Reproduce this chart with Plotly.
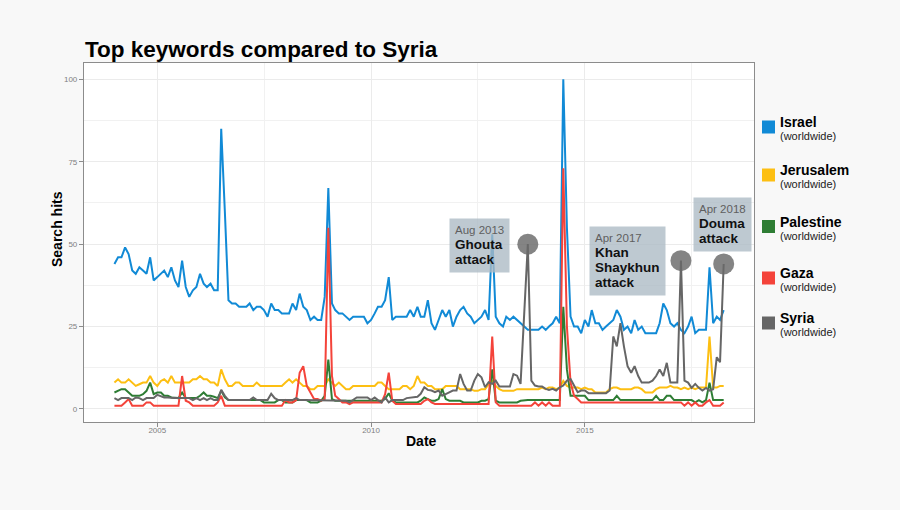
import plotly.graph_objects as go
import pandas as pd

# ---------------- data (monthly Google Trends, Jan 2004 - Apr 2018) ----------------
start_month = "2004-01-01"
n_months = 172

israel = [44, 46, 46, 49, 47, 42, 41, 43, 42, 41, 46, 39,
          40, 41, 42, 40, 43, 39, 37, 45, 37, 34, 36, 37,
          41, 38, 37, 38, 36, 36, 85, 60, 33, 32, 32, 31,
          31, 31, 32, 30, 31, 31, 30, 28, 32, 30, 30, 29,
          29, 29, 32, 30, 35, 31, 30, 27, 28, 27, 27, 34,
          67, 32, 30, 29, 29, 28, 27, 28, 28, 28, 28, 26,
          27, 29, 31, 31, 33, 40, 27, 28, 28, 28, 28, 30,
          28, 31, 28, 28, 33, 26, 24, 27, 30, 28, 30, 25,
          28, 30, 31, 29, 28, 26, 27, 28, 30, 27, 53, 28,
          26, 25, 28, 27, 28, 27, 26, 25, 24, 24, 24, 24,
          25, 24, 25, 26, 28, 26, 100, 55, 28, 25, 25, 23,
          27, 25, 30, 26, 26, 24, 25, 26, 27, 30, 28, 24,
          25, 23, 27, 24, 25, 23, 23, 23, 23, 26, 32, 30,
          26, 25, 26, 24, 23, 25, 28, 23, 24, 24, 24, 43,
          26, 28, 27, 30]

jerusalem = [8, 9, 8, 8, 9, 8, 7, 7.5, 8, 8, 10, 8,
             7, 8.5, 9, 8, 10, 8, 8, 8, 8, 8, 9, 9,
             10, 9, 9, 8, 8, 7, 12, 9, 7, 7, 8, 8,
             7, 7, 7, 7, 8, 7, 7, 7, 7, 7, 7, 7,
             8, 9, 8, 9, 8, 7, 7, 6, 6, 7, 7, 7,
             9, 8, 7, 8, 7, 6, 6, 7, 7, 7, 7, 7,
             7, 7, 8, 8, 7, 6, 6, 6, 6, 7, 7, 6,
             7, 10, 8, 8, 7, 7, 6, 6, 6, 7, 7, 7,
             7, 6, 6, 6, 6, 5.5, 5.5, 6, 6, 7.5, 8.5, 7,
             6, 5.5, 5.5, 5.5, 5.5, 6, 6, 6, 6, 6, 6, 6,
             6.5, 6, 6.5, 6.5, 6, 6.5, 8.5, 7, 6.5, 6.5, 6.5, 6,
             6.5, 6, 6, 5, 5, 5, 5, 6, 6.5, 6.5, 6, 6,
             6, 6, 6.5, 6.5, 6, 5, 5, 5, 6, 6.5, 6.5, 6.5,
             7, 6.5, 6.5, 6, 6.5, 6, 6.5, 6, 6.5, 6.5, 6.5, 22,
             6.5, 6.5, 7, 7]

palestine = [5, 5.5, 6, 6, 5, 4, 4, 4, 4.5, 5.5, 8, 4.5,
             5, 5, 4, 4, 3.5, 3.3, 3.3, 5, 3.3, 3.3, 3.3, 3.3,
             4, 5, 4, 4, 3.7, 3.3, 5.5, 3.5, 2.7, 2.7, 2.7, 2.7,
             2.7, 2.7, 2.7, 2.7, 2.7, 2.7, 2, 2, 2, 2, 2.7, 2.7,
             2, 2, 2, 2.7, 2.7, 2.7, 2.7, 2, 2, 2, 2.5, 4,
             15, 3, 2.5, 2.5, 2.5, 2.5, 2.5, 2.5, 2.5, 2.5, 2.5, 2.5,
             2.5, 2.5, 2.5, 2.5, 3, 4.8, 2.5, 2, 2, 2, 2, 2,
             2, 2, 2.5, 3.5, 3, 2.5, 2.5, 3, 6, 3, 2.5, 2.5,
             2.5, 2.5, 2, 2, 2, 2, 2, 2.5, 2.5, 3, 12, 2.5,
             2, 2, 2, 2, 2, 2, 2.5, 2.7, 2.7, 2.7, 2.7, 2.7,
             2.7, 2.7, 2.7, 2.7, 2.7, 2.7, 31, 12, 4, 4, 4, 4,
             4, 2.7, 2.7, 2.7, 2.7, 2.7, 2.7, 2.7, 2.7, 4, 2.7, 2.7,
             2.7, 2.7, 2.7, 2.7, 2.7, 2.7, 2.7, 2.7, 4, 2.7, 2.7, 4,
             4, 2.7, 2.7, 2.7, 2.7, 2.7, 2.7, 2, 2.7, 2, 2.7, 8,
             2.7, 2.7, 2.7, 2.7]

gaza = [1, 1, 1, 2, 3, 1, 1, 1, 1, 2, 2, 1,
        1, 1, 1, 1, 1, 1, 1, 10, 2.5, 2, 1, 1,
        1, 1, 1, 1, 1, 2, 4, 1, 1, 1, 1, 1,
        1, 1, 1, 1, 1, 1, 1, 1, 1, 1, 1, 1,
        2.7, 2, 2, 2.7, 11, 13, 7, 5, 3, 3, 2.5, 3,
        55, 10, 4, 3, 2, 2, 1.5, 2, 2, 2, 2, 2,
        2, 2, 2, 2, 4.5, 11, 2.5, 1.5, 1.5, 1.5, 1.5, 1.5,
        1.5, 1.5, 1.5, 2.5, 3, 2, 1.5, 1.5, 1.5, 1.5, 1.5, 1.5,
        1.5, 1.5, 1.5, 1.5, 1.5, 1.5, 1.5, 1.5, 1.5, 1.5, 22, 2,
        1, 1, 1, 1, 1, 1, 1, 1, 1, 1, 2, 1,
        2, 1, 2, 1, 1, 1, 73, 25, 8, 4, 3, 2,
        2, 2, 2, 2, 2, 2, 2, 2, 2, 2, 2, 2,
        2, 2, 2, 2, 2, 2, 2, 2, 2, 2, 2, 2,
        2, 2, 2, 2, 1, 2, 1, 2, 1, 1, 2, 2.7,
        1, 1, 1, 2]

syria = [3.3, 2.7, 3.3, 3.3, 3.3, 2.7, 3.5, 3.3, 2.7, 3.3, 3.3, 3.3,
         4.3, 4, 3.5, 3.5, 3.3, 3.3, 3.3, 3.3, 3.3, 3.3, 2.7, 3.3,
         2.7, 3.3, 2.7, 3.3, 2.7, 2.7, 5.8, 4, 2.7, 2.7, 2.7, 2.7,
         2.7, 2.7, 2.7, 3.5, 2.7, 2.7, 2.7, 2.7, 4.6, 3.3, 2.7, 2.7,
         2.7, 2.7, 2.7, 3.3, 2.7, 2.7, 2.7, 2.7, 2.5, 2.5, 2.5, 2.5,
         2.5, 2.5, 2.5, 2.5, 2.5, 2.5, 2, 2.7, 3.5, 3.5, 3.5, 3.5,
         2.7, 3.5, 2.7, 2, 3.5, 2, 2.7, 2.7, 2.7, 2.7, 3.3, 3.5,
         3.5, 3.7, 4.6, 6.6, 5.8, 5.6, 5.1, 5.6, 4, 4.6, 5.1, 5.6,
         5.6, 10.6, 7.6, 5.6, 5.6, 8.6, 10.6, 9.6, 6.6, 8.1, 7.6, 8.6,
         6.8, 6.8, 6.8, 6.8, 10.6, 10.1, 7.6, 28, 50, 8.6, 7.1, 6.8,
         6.8, 6.1, 5.8, 6.1, 5.6, 6.6, 7.1, 8.6, 9.1, 7.1, 5.1, 5.6,
         5.6, 4.8, 4.8, 4.8, 4.8, 4.8, 4.8, 5.6, 22, 19, 26, 19,
         13, 11, 13, 10, 8, 8, 8, 8.6, 10, 12, 10, 14,
         8, 8, 8, 45, 8.6, 8, 6.4, 7.6, 6.4, 5.6, 6.4, 5.6,
         6, 15.7, 14.2, 44]

series_names = ["Israel", "Jerusalem", "Palestine", "Gaza", "Syria"]
series_values = [israel, jerusalem, palestine, gaza, syria]
series_colors = ["#118ad6", "#fdbf12", "#2e7d34", "#f4433a", "#666666"]

# attack events: (date of Syria peak, date label, event name lines)
event_dates = ["2013-09-01", "2017-04-01", "2018-04-01"]
event_labels = ["Aug 2013", "Apr 2017", "Apr 2018"]
event_names = [["Ghouta", "attack"], ["Khan", "Shaykhun", "attack"], ["Douma", "attack"]]

x_ticks = ["2005-01-01", "2010-01-01", "2015-01-01"]
x_ticktext = ["2005", "2010", "2015"]
x_minor = ["2007-07-02", "2012-07-02", "2017-07-02"]
y_ticks = [0, 25, 50, 75, 100]
y_minor = [12.5, 37.5, 62.5, 87.5]

# ---------------- figure ----------------
dates = pd.date_range(start_month, periods=n_months, freq="MS")

W, H = 900, 510
L, R, T, B = 84, 146, 63, 88
PW, PH = W - L - R, H - T - B


def px_x(px):
    return (px - L) / PW


def px_y(py):
    return (H - B - py) / PH


FONT = "Liberation Sans, Arial, sans-serif"

fig = go.Figure()
for name, vals, col in zip(series_names, series_values, series_colors):
    fig.add_trace(go.Scatter(x=dates, y=vals, mode="lines", name=name,
                             line=dict(color=col, width=2), showlegend=False,
                             hoverinfo="x+y+name"))

# circles on Syria peaks
syria_s = pd.Series(syria, index=dates)
ev_idx = pd.to_datetime(event_dates)
fig.add_trace(go.Scatter(x=ev_idx, y=[syria_s[d] for d in ev_idx], mode="markers",
                         marker=dict(size=21, color="rgba(105,105,105,0.82)", line=dict(width=0)),
                         showlegend=False, hoverinfo="skip"))

annotations = []
shapes = []

# event boxes (pixel-placed layout boxes)
box_pos = [(449, 218), (589, 226), (693, 197)]
for (bx, by), lab, lines in zip(box_pos, event_labels, event_names):
    txt = "<span style='color:#5f5f5f'>%s</span>" % lab
    for ln in lines:
        txt += "<br><span style='font-size:13.5px'><b>%s</b></span>" % ln
    annotations.append(dict(x=px_x(bx), y=px_y(by), xref="paper", yref="paper",
                            xanchor="left", yanchor="top", text=txt, align="left",
                            showarrow=False, bgcolor="rgba(172,186,196,0.78)",
                            borderpad=5, font=dict(family=FONT, size=11.5, color="#111")))

# custom legend on the right
legend_cy = [127, 175, 226.5, 278, 323]
for name, col, cy in zip(series_names, series_colors, legend_cy):
    shapes.append(dict(type="rect", xref="paper", yref="paper",
                       x0=px_x(762), x1=px_x(775), y0=px_y(cy + 6.5), y1=px_y(cy - 6.5),
                       fillcolor=col, line=dict(width=0)))
    annotations.append(dict(x=px_x(778), y=px_y(cy + 1), xref="paper", yref="paper",
                            xanchor="left", yanchor="middle", align="left", showarrow=False,
                            text="<span style='font-size:14px'><b>%s</b></span><br>"
                                 "<span style='font-size:11px;color:#222'>(worldwide)</span>" % name,
                            font=dict(family=FONT, size=10.3, color="#000")))

# axis titles
annotations.append(dict(x=px_x(57), y=px_y(229), xref="paper", yref="paper",
                        xanchor="center", yanchor="middle", textangle=-90, showarrow=False,
                        text="<b>Search hits</b>", font=dict(family=FONT, size=14, color="#000")))
annotations.append(dict(x=px_x(421), y=px_y(441), xref="paper", yref="paper",
                        xanchor="center", yanchor="middle", showarrow=False,
                        text="<b>Date</b>", font=dict(family=FONT, size=14, color="#000")))

fig.update_layout(
    width=W, height=H, autosize=False,
    margin=dict(l=L, r=R, t=T, b=B),
    paper_bgcolor="#f8f8f8", plot_bgcolor="white",
    font=dict(family=FONT),
    title=dict(text="<b>Top keywords compared to Syria</b>", x=85 / W, xanchor="left",
               xref="container", y=1 - 49 / H, yanchor="middle", yref="container",
               font=dict(family=FONT, size=22.5, color="#000")),
    annotations=annotations, shapes=shapes,
    xaxis=dict(type="date", range=["2003-04-16", "2018-12-16"],
               tickmode="array", tickvals=x_ticks, ticktext=x_ticktext,
               ticks="outside", ticklen=4, tickcolor="#8c8c8c", tickwidth=1,
               ticklabelstandoff=-4,
               tickfont=dict(size=8, color="#7f7f7f"),
               showgrid=True, gridcolor="#ebebeb", gridwidth=1,
               minor=dict(tickvals=x_minor, showgrid=True, gridcolor="#f1f1f1", gridwidth=0.6, ticklen=0),
               showline=True, mirror=True, linecolor="#8c8c8c", linewidth=1.2, zeroline=False),
    yaxis=dict(range=[-3.95, 104.95], tickmode="array", tickvals=y_ticks,
               ticks="outside", ticklen=4, tickcolor="#8c8c8c", tickwidth=1,
               tickfont=dict(size=8, color="#7f7f7f"),
               showgrid=True, gridcolor="#ebebeb", gridwidth=1,
               minor=dict(tickvals=y_minor, showgrid=True, gridcolor="#f1f1f1", gridwidth=0.6, ticklen=0),
               showline=True, mirror=True, linecolor="#8c8c8c", linewidth=1.2, zeroline=False),
)

fig.write_html("out.html")
